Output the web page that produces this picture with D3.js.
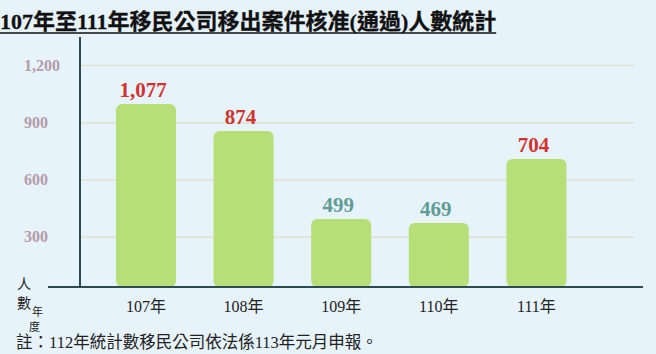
<!DOCTYPE html>
<html>
<head>
<meta charset="utf-8">
<script src="https://cdn.jsdelivr.net/npm/d3@7"></script>
<style>
  html, body { margin: 0; padding: 0; background: #e7f3fb; }
  svg { display: block; }
</style>
</head>
<body>
<div id="chart"><svg width="656" height="354"></svg></div>
<script>
const title = "107年至111年移民公司移出案件核准(通過)人數統計";
const years = ["107年", "108年", "109年", "110年", "111年"];
// numbers printed above the bars
const labelValues = [1077, 874, 499, 469, 704];
// bar heights as drawn in the picture (they do not follow the labels)
const barValues = [995, 854, 393, 372, 707];
const labelColors = ["#cf3330", "#cf3330", "#5f9c93", "#5f9c93", "#cf3330"];
const yTicks = [300, 600, 900, 1200];
const note = "註：112年統計數移民公司依法係113年元月申報。";

const SERIF = '"Liberation Serif", "Times New Roman", "Noto Sans CJK TC", serif';
const BASE = 287;

const svg = d3.select("#chart svg");

const x = d3.scaleBand()
    .domain(years)
    .range([97.2, 585.2])
    .paddingInner(0.385)
    .paddingOuter(0.1925);

const y = d3.scaleLinear()
    .domain([0, 1200])
    .range([294, 65]);

// title + underline
const t = svg.append("text")
    .attr("x", 0)
    .attr("y", 29)
    .attr("font-family", SERIF)
    .attr("font-weight", "bold")
    .attr("font-size", 22)
    .attr("fill", "#111")
    .attr("stroke", "#111")
    .attr("stroke-width", 0.3)
    .text(title);
const tw = t.node().getComputedTextLength();
svg.append("line")
    .attr("x1", 0).attr("x2", tw)
    .attr("y1", 33).attr("y2", 33)
    .attr("stroke", "#111").attr("stroke-width", 1.6);

// grid + y labels
const yAxis = svg.append("g")
    .attr("transform", "translate(80,0)")
    .call(d3.axisLeft(y).tickValues(yTicks).tickSize(-554).tickFormat(d3.format(",")));
yAxis.select(".domain").remove();
yAxis.selectAll(".tick line")
    .attr("stroke", "#e2e0cf")
    .attr("stroke-width", 1.5);
yAxis.selectAll(".tick text")
    .attr("x", -56)
    .attr("text-anchor", "start")
    .attr("font-family", SERIF)
    .attr("font-weight", "bold")
    .attr("font-size", 16)
    .attr("fill", "#b49ca8");

// bars
svg.append("g").selectAll("rect")
    .data(years)
    .join("rect")
    .attr("x", d => x(d))
    .attr("y", (d, i) => y(barValues[i]))
    .attr("width", x.bandwidth())
    .attr("height", (d, i) => BASE - y(barValues[i]))
    .attr("rx", 6)
    .attr("fill", "#b6df78");

// value labels
svg.append("g").selectAll("text")
    .data(years)
    .join("text")
    .attr("x", d => x(d) + x.bandwidth() / 2 - 3)
    .attr("y", (d, i) => y(barValues[i]) - 7)
    .attr("text-anchor", "middle")
    .attr("font-family", SERIF)
    .attr("font-weight", "bold")
    .attr("font-size", 21)
    .attr("fill", (d, i) => labelColors[i])
    .text((d, i) => d3.format(",")(labelValues[i]));

// axis lines
svg.append("line")
    .attr("x1", 80).attr("x2", 80)
    .attr("y1", 37).attr("y2", BASE)
    .attr("stroke", "#2d4b52").attr("stroke-width", 2);
svg.append("line")
    .attr("x1", 48).attr("x2", 643)
    .attr("y1", BASE).attr("y2", BASE)
    .attr("stroke", "#2d4b52").attr("stroke-width", 2);

// x labels
const xAxis = svg.append("g")
    .attr("transform", `translate(0,${BASE})`)
    .call(d3.axisBottom(x).tickSize(0).tickPadding(14));
xAxis.select(".domain").remove();
xAxis.selectAll(".tick text")
    .attr("font-family", SERIF)
    .attr("font-size", 16)
    .attr("fill", "#222");

// axis titles (stacked vertically, as in the original)
const axTitles = [
    {s: "人", x: 17, y: 289, size: 14},
    {s: "數", x: 17, y: 308, size: 14},
    {s: "年", x: 32, y: 316, size: 11},
    {s: "度", x: 29, y: 331, size: 11}
];
svg.append("g").selectAll("text")
    .data(axTitles)
    .join("text")
    .attr("x", d => d.x)
    .attr("y", d => d.y)
    .attr("font-family", SERIF)
    .attr("font-size", d => d.size)
    .attr("fill", "#222")
    .text(d => d.s);

// footnote
svg.append("text")
    .attr("x", 16)
    .attr("y", 348)
    .attr("font-family", SERIF)
    .attr("font-size", 16.5)
    .attr("fill", "#222")
    .text(note);
</script>
</body>
</html>
